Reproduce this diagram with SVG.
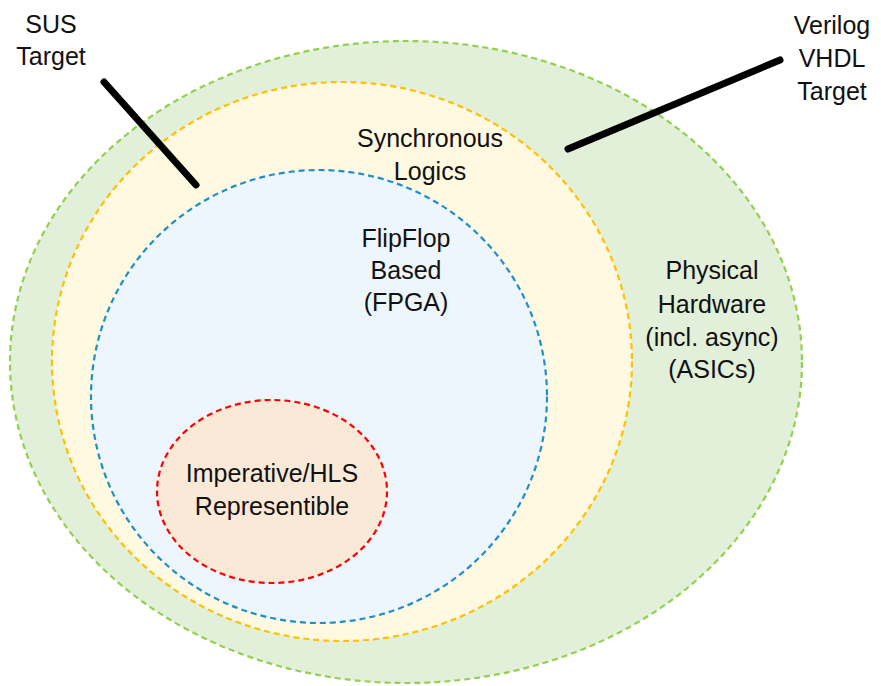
<svg xmlns="http://www.w3.org/2000/svg" width="881" height="686" viewBox="0 0 881 686">
<style>
text{font-family:"Liberation Sans",Arial,sans-serif;font-size:25px;fill:#111;text-anchor:middle}
.set{stroke-width:2.2;stroke-dasharray:6 4}
.ptr{stroke:#000;stroke-width:7;stroke-linecap:round;fill:none}
</style>
<rect width="881" height="686" fill="#fff"/>
<g id="physical">
<ellipse class="set" cx="406" cy="362" rx="396" ry="321" fill="#e2efd9" stroke="#92d050"/>
<text x="712" y="279">Physical</text>
<text x="712" y="313">Hardware</text>
<text x="712" y="346">(incl. async)</text>
<text x="712" y="378">(ASICs)</text>
</g>
<g id="synchronous">
<ellipse class="set" cx="342" cy="361.5" rx="290" ry="279.5" fill="#fff9e1" stroke="#ffc000"/>
<text x="430" y="147">Synchronous</text>
<text x="430" y="180">Logics</text>
</g>
<g id="flipflop">
<ellipse class="set" cx="319" cy="396.5" rx="228" ry="226.5" fill="#edf5fd" stroke="#1f8fc9"/>
<text x="406" y="247">FlipFlop</text>
<text x="406" y="279">Based</text>
<text x="406" y="311">(FPGA)</text>
</g>
<g id="imperative">
<ellipse class="set" cx="272" cy="491.5" rx="115" ry="91.5" fill="#fae9d7" stroke="#ff0000"/>
<text x="272" y="482">Imperative/HLS</text>
<text x="272" y="515">Representible</text>
</g>
<g id="sus">
<text x="51" y="33">SUS</text>
<text x="51" y="65">Target</text>
</g>
<g id="verilog">
<text x="832" y="34">Verilog</text>
<text x="832" y="67">VHDL</text>
<text x="832" y="100">Target</text>
</g>
<g id="connectors">
<line class="ptr" x1="104" y1="82" x2="196" y2="185"/>
<line class="ptr" x1="780" y1="60" x2="568" y2="149"/>
</g>
</svg>
